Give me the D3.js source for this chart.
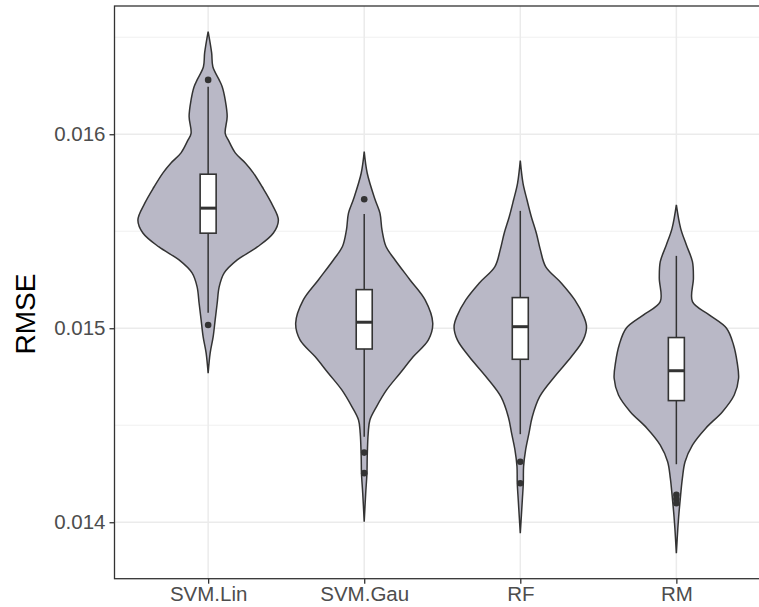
<!DOCTYPE html>
<html>
<head>
<meta charset="utf-8">
<script src="https://cdn.jsdelivr.net/npm/d3@7"></script>
<style>
  body { margin: 0; background: #fff; }
  svg { display: block; font-family: "Liberation Sans", Arial, sans-serif; }
</style>
</head>
<body>
<div id="chart"></div>
<script>
// categories and axis ticks
const models = ["SVM.Lin", "SVM.Gau", "RF", "RM"];
const yTicks = [0.014, 0.015, 0.016];
const yMinor = [0.0135, 0.0145, 0.0155, 0.0165];

// violin outlines: RMSE value and relative density (1 = widest)
const linY = [0.016529, 0.016419, 0.016348, 0.016280, 0.016245, 0.016177, 0.016091, 0.016005, 0.015971, 0.015904,
  0.015852, 0.015801, 0.015728, 0.015646, 0.015558, 0.015491, 0.015419, 0.015352, 0.015285, 0.015213,
  0.015130, 0.015043, 0.014955, 0.014873, 0.014768];
const linDens = [0, 0.05, 0.067, 0.157, 0.2, 0.243, 0.271, 0.243, 0.286, 0.386,
  0.529, 0.643, 0.771, 0.9, 1, 0.929, 0.7, 0.414, 0.229, 0.157,
  0.129, 0.1, 0.071, 0.029, 0];

const gauY = [0.015910, 0.015799, 0.015665, 0.015593, 0.015507, 0.015421, 0.015352, 0.015249, 0.015146, 0.015026,
  0.014940, 0.014854, 0.014768, 0.014682, 0.014596, 0.014527, 0.014459, 0.014338, 0.014253, 0.014149, 0.014003];
const gauDens = [0, 0.043, 0.153, 0.224, 0.253, 0.31, 0.439, 0.653, 0.867, 0.976,
  0.914, 0.7, 0.51, 0.319, 0.176, 0.081, 0.057, 0.043, 0.039, 0.021, 0];

const rfY = [0.015864, 0.015747, 0.015661, 0.015575, 0.015490, 0.015404, 0.015318, 0.015232, 0.015146, 0.015060,
  0.015008, 0.014940, 0.014854, 0.014751, 0.014647, 0.014544, 0.014459, 0.014373, 0.014287, 0.014201, 0.014115, 0.013943];
const rfDens = [0, 0.039, 0.096, 0.157, 0.229, 0.286, 0.361, 0.586, 0.776, 0.904,
  0.943, 0.896, 0.729, 0.49, 0.276, 0.171, 0.124, 0.076, 0.047, 0.043, 0.029, 0];

const rmY = [0.015636, 0.015515, 0.015429, 0.015343, 0.015258, 0.015137, 0.015069, 0.015000, 0.014914, 0.014828,
  0.014742, 0.014656, 0.014570, 0.014485, 0.014398, 0.014312, 0.014227, 0.014141, 0.014055, 0.013969, 0.013840];
const rmDens = [0, 0.061, 0.143, 0.229, 0.243, 0.229, 0.467, 0.714, 0.814, 0.864,
  0.886, 0.824, 0.657, 0.419, 0.229, 0.124, 0.086, 0.061, 0.039, 0.021, 0];

// boxplot stats per model
const whiskerLow = [0.015080, 0.014441, 0.014454, 0.014299];
const q1 = [0.015490, 0.014893, 0.014840, 0.014627];
const median = [0.015619, 0.015031, 0.015008, 0.014781];
const q3 = [0.015794, 0.015199, 0.015158, 0.014952];
const whiskerHigh = [0.016245, 0.015589, 0.015605, 0.015373];
const outliers = [
  [0.016280, 0.015017],
  [0.015665, 0.014359, 0.014253],
  [0.014312, 0.014201],
  [0.014141, 0.014120, 0.014098]
];

const violins = [[linY, linDens], [gauY, gauDens], [rfY, rfDens], [rmY, rmDens]];

const width = 759, height = 607;
const panelL = 114.5, panelR = 770, panelT = 6, panelB = 578.7;

const svg = d3.select("#chart").append("svg")
    .attr("width", width)
    .attr("height", height);

const x = d3.scalePoint()
    .domain(models)
    .range([panelL, panelR])
    .padding(0.6);

const y = d3.scaleLinear()
    .domain([0.013709, 0.016661])
    .range([panelB, panelT]);

const w = d3.scaleLinear()
    .domain([0, 1])
    .range([0, x.step() * 0.45]);

// grid
svg.append("g")
    .selectAll("line")
    .data(yMinor.filter(d => y(d) > panelT && y(d) < panelB))
    .join("line")
    .attr("x1", panelL).attr("x2", panelR)
    .attr("y1", d => y(d)).attr("y2", d => y(d))
    .attr("stroke", "#ebebeb")
    .attr("stroke-width", 0.8);

svg.append("g")
    .selectAll("line")
    .data(yTicks)
    .join("line")
    .attr("x1", panelL).attr("x2", panelR)
    .attr("y1", d => y(d)).attr("y2", d => y(d))
    .attr("stroke", "#ebebeb")
    .attr("stroke-width", 1.5);

svg.append("g")
    .selectAll("line")
    .data(models)
    .join("line")
    .attr("x1", d => x(d)).attr("x2", d => x(d))
    .attr("y1", panelT).attr("y2", panelB)
    .attr("stroke", "#ebebeb")
    .attr("stroke-width", 1.5);

// violins
violins.forEach(([vals, dens], i) => {
    const cx = x(models[i]);
    const pts = vals.map((v, j) => ({ v: v, d: dens[j] }));
    const area = d3.area()
        .y(d => y(d.v))
        .x0(d => cx - w(d.d))
        .x1(d => cx + w(d.d))
        .curve(d3.curveCatmullRom);
    svg.append("path")
        .datum(pts)
        .attr("fill", "#b9b8c6")
        .attr("stroke", "#333333")
        .attr("stroke-width", 1.5)
        .attr("d", area);
});

// boxplots
const boxW = 16;
models.forEach((m, i) => {
    const cx = x(m);
    const g = svg.append("g");
    g.append("line")
        .attr("x1", cx).attr("x2", cx)
        .attr("y1", y(whiskerHigh[i])).attr("y2", y(q3[i]))
        .attr("stroke", "#333333").attr("stroke-width", 1.5);
    g.append("line")
        .attr("x1", cx).attr("x2", cx)
        .attr("y1", y(q1[i])).attr("y2", y(whiskerLow[i]))
        .attr("stroke", "#333333").attr("stroke-width", 1.5);
    g.append("rect")
        .attr("x", cx - boxW / 2)
        .attr("y", y(q3[i]))
        .attr("width", boxW)
        .attr("height", y(q1[i]) - y(q3[i]))
        .attr("fill", "#ffffff")
        .attr("stroke", "#333333")
        .attr("stroke-width", 1.6);
    g.append("line")
        .attr("x1", cx - boxW / 2).attr("x2", cx + boxW / 2)
        .attr("y1", y(median[i])).attr("y2", y(median[i]))
        .attr("stroke", "#333333").attr("stroke-width", 3);
    g.selectAll("circle")
        .data(outliers[i])
        .join("circle")
        .attr("cx", cx)
        .attr("cy", d => y(d))
        .attr("r", 3.3)
        .attr("fill", "#333333");
});

// panel border
svg.append("rect")
    .attr("x", panelL).attr("y", panelT)
    .attr("width", panelR - panelL).attr("height", panelB - panelT)
    .attr("fill", "none")
    .attr("stroke", "#333333")
    .attr("stroke-width", 1.3);

// axes
const yAxis = svg.append("g")
    .attr("transform", `translate(${panelL},0)`)
    .call(d3.axisLeft(y).tickValues(yTicks).tickSize(5).tickPadding(4).tickFormat(d3.format(".3f")));
yAxis.select(".domain").remove();

const xAxis = svg.append("g")
    .attr("transform", `translate(0,${panelB})`)
    .call(d3.axisBottom(x).tickSize(5).tickPadding(3));
xAxis.select(".domain").remove();

svg.selectAll(".tick line").attr("stroke", "#333333").attr("stroke-width", 1.3);
svg.selectAll(".tick text")
    .attr("fill", "#4d4d4d")
    .style("font-size", "20.5px")
    .style("font-family", "'Liberation Sans', Arial, sans-serif");

svg.append("text")
    .attr("transform", `translate(34.5,314) rotate(-90)`)
    .attr("text-anchor", "middle")
    .attr("fill", "#000000")
    .style("font-size", "28px")
    .text("RMSE");
</script>
</body>
</html>
